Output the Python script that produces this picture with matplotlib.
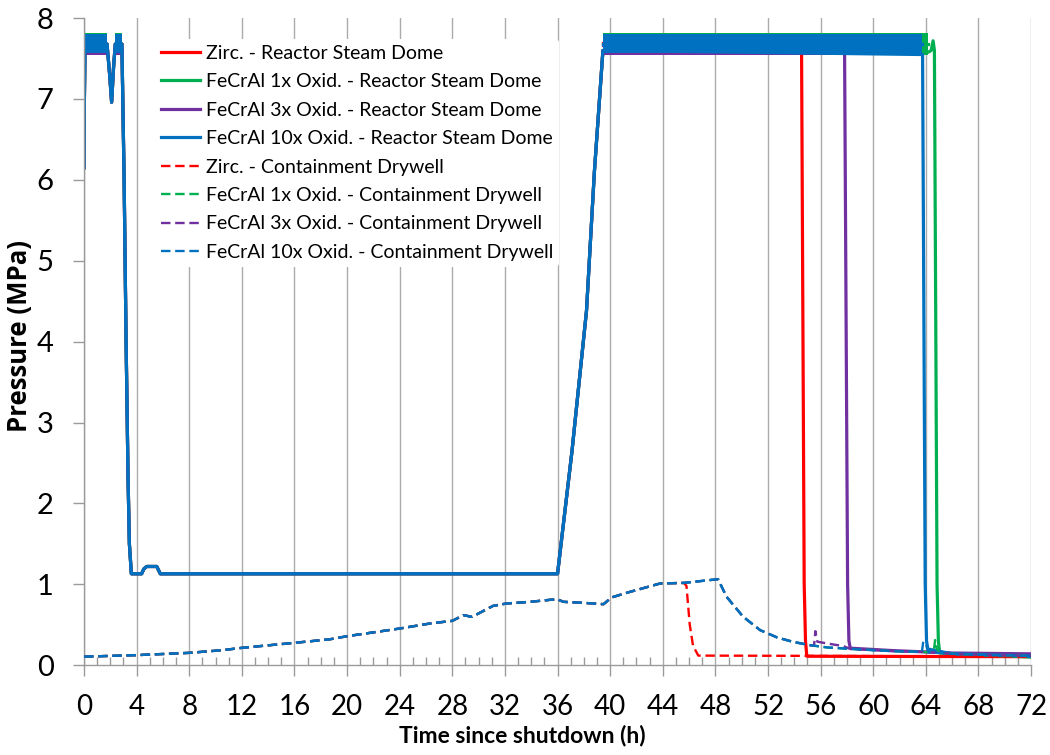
import matplotlib
matplotlib.use("Agg")
import matplotlib.pyplot as plt
from matplotlib.ticker import MultipleLocator

plt.rcParams['font.family'] = ['Lato', 'DejaVu Sans']

# ---------------- data ----------------
# Reactor steam dome pressure (MPa) vs time since shutdown (h), common early history
dome_t_common = [0, 0.03, 0.08, 1.75, 1.95, 2.1, 2.25, 2.38, 2.88, 3.05, 3.2, 3.35, 3.45, 3.6,
                 4.38, 4.55, 4.77, 5.53, 5.68, 5.8, 36.0, 37.1, 38.2, 38.8, 39.45]
dome_p_common = [6.15, 7.0, 7.68, 7.68, 7.3, 6.96, 7.4, 7.68, 7.68, 6.0, 4.0, 2.3, 1.5, 1.13,
                 1.13, 1.19, 1.22, 1.22, 1.17, 1.13, 1.13, 2.65, 4.38, 6.1, 7.6]

# late history of each case after relief-valve cycling ends
zirc_dome_t = [54.55, 54.75, 54.85, 54.95, 72.0]
zirc_dome_p = [7.6, 1.0, 0.3, 0.11, 0.105]
fecral1_dome_t = [64.2, 64.4, 64.55, 64.65, 64.85, 64.95, 65.05, 72.0]
fecral1_dome_p = [7.58, 7.6, 7.72, 7.6, 1.0, 0.3, 0.15, 0.10]
fecral3_dome_t = [57.82, 58.05, 58.15, 58.25, 61.5, 66.0, 72.0]
fecral3_dome_p = [7.6, 1.0, 0.3, 0.21, 0.18, 0.15, 0.14]
fecral10_dome_t = [63.7, 63.75, 63.95, 64.05, 64.15, 66.0, 72.0]
fecral10_dome_p = [7.55, 7.55, 1.0, 0.3, 0.2, 0.14, 0.11]

# relief-valve cycling: pressure band (low, high) and cycling periods (h)
zirc_band = (7.56, 7.82)
fecral1_band = (7.55, 7.81)
fecral3_band = (7.54, 7.80)
fecral10_band = (7.57, 7.80)
cycling_early = [(0.08, 1.75), (2.38, 2.88)]
zirc_cycling_end = 54.55
fecral1_cycling_end = 64.2
fecral3_cycling_end = 57.82
fecral10_cycling_end = 63.7

# Containment drywell pressure (MPa), common early history
dw_t_common = [0, 4, 8, 10.5, 12, 16, 18.7, 20, 24, 26.3, 28, 28.85, 29.5, 31.1, 32.1, 33.9,
               35.95, 36.45, 38, 39.5, 40.1, 41.5, 43.8, 45.6]
dw_p_common = [0.105, 0.124, 0.152, 0.185, 0.214, 0.276, 0.32, 0.358, 0.453, 0.515, 0.548, 0.618,
               0.597, 0.733, 0.762, 0.783, 0.816, 0.783, 0.77, 0.754, 0.837, 0.906, 1.01, 1.017]

zirc_dw_t = [45.8, 46.05, 46.3, 46.7, 55.0, 72.0]
zirc_dw_p = [0.98, 0.5, 0.24, 0.118, 0.115, 0.105]

fecral_dw_t = [48.2, 48.85, 50.1, 51.4, 52.7, 53.9, 55.2, 56.5, 59.0, 61.5, 63.7, 64.1,
               64.6, 66.6, 69.1, 72.0]
fecral_dw_p = [1.063, 0.845, 0.60, 0.433, 0.342, 0.288, 0.247, 0.219, 0.194, 0.173, 0.165, 0.16,
               0.155, 0.136, 0.124, 0.115]

# local venting spikes in the drywell for individual cases
fecral1_dw_spike_t = [64.6, 64.7, 64.85, 65.0]
fecral1_dw_spike_p = [0.165, 0.31, 0.2, 0.155]
fecral3_dw_spike_t = [55.5, 55.6, 55.75, 56.5, 57.75, 58.25]
fecral3_dw_spike_p = [0.24, 0.42, 0.29, 0.268, 0.235, 0.2]
fecral10_dw_spike_t = [63.7, 63.8, 64.0, 64.2]
fecral10_dw_spike_p = [0.165, 0.29, 0.26, 0.16]

labels_dome = ["Zirc. - Reactor Steam Dome", "FeCrAl 1x Oxid. - Reactor Steam Dome",
               "FeCrAl 3x Oxid. - Reactor Steam Dome", "FeCrAl 10x Oxid. - Reactor Steam Dome"]
labels_dw = ["Zirc. - Containment Drywell", "FeCrAl 1x Oxid. - Containment Drywell",
             "FeCrAl 3x Oxid. - Containment Drywell", "FeCrAl 10x Oxid. - Containment Drywell"]
colors = ["#FF0000", "#00B050", "#7030A0", "#0070C0"]


def merge_spike(t, p, st, sp):
    """Replace the part of (t, p) spanned by a spike with the spike points."""
    out = [(a, b) for a, b in zip(t, p) if a < st[0] or a > st[-1]]
    out += list(zip(st, sp))
    out.sort()
    return [a for a, _ in out], [b for _, b in out]


dome_series = [
    (dome_t_common + zirc_dome_t, dome_p_common + zirc_dome_p, zirc_band, zirc_cycling_end),
    (dome_t_common + fecral1_dome_t, dome_p_common + fecral1_dome_p, fecral1_band, fecral1_cycling_end),
    (dome_t_common + fecral3_dome_t, dome_p_common + fecral3_dome_p, fecral3_band, fecral3_cycling_end),
    (dome_t_common + fecral10_dome_t, dome_p_common + fecral10_dome_p, fecral10_band, fecral10_cycling_end),
]

fecral1_dw = merge_spike(dw_t_common + fecral_dw_t, dw_p_common + fecral_dw_p,
                         fecral1_dw_spike_t, fecral1_dw_spike_p)
fecral3_dw = merge_spike(dw_t_common + fecral_dw_t, dw_p_common + fecral_dw_p,
                         fecral3_dw_spike_t, fecral3_dw_spike_p)
fecral10_dw = merge_spike(dw_t_common + fecral_dw_t, dw_p_common + fecral_dw_p,
                          fecral10_dw_spike_t, fecral10_dw_spike_p)
dw_series = [
    (dw_t_common + zirc_dw_t, dw_p_common + zirc_dw_p),
    fecral1_dw,
    fecral3_dw,
    fecral10_dw,
]

# ---------------- figure ----------------
fig = plt.figure(figsize=(10.5, 7.55), dpi=100)
ax = fig.add_axes([0.080, 0.119, 0.902, 0.857])

for (t, p, band, end), c, lab in zip(dome_series, colors, labels_dome):
    # relief-valve cycling drawn as a pressure band
    for a, b in cycling_early + [(39.45, end)]:
        ax.fill_between([a, b], band[0], band[1], color=c, lw=0, zorder=2)
    mid = 0.5 * (band[0] + band[1])
    ax.plot(t, p, color=c, lw=2.3, label=lab, zorder=2, solid_joinstyle='round')
    ax.plot([39.45, end], [mid, mid], color=c, lw=2.3, zorder=2)

for (t, p), c, lab in zip(dw_series, colors, labels_dw):
    ax.plot(t, p, color=c, lw=1.7, ls=(0, (4, 2.0)), label=lab, zorder=3)

# ---------------- axes styling ----------------
ax.set_xlim(0, 72)
ax.set_ylim(0, 8)
ax.xaxis.set_major_locator(MultipleLocator(4))
ax.xaxis.set_minor_locator(MultipleLocator(1))
ax.yaxis.set_major_locator(MultipleLocator(1))
ax.grid(axis='x', which='major', color='#ABABAB', lw=1.0, zorder=0)
ax.set_axisbelow(True)

for s in ['top', 'right']:
    ax.spines[s].set_visible(False)
for s in ['left', 'bottom']:
    ax.spines[s].set_color('#9A9A9A')
    ax.spines[s].set_linewidth(1.0)

ax.tick_params(axis='x', which='major', direction='out', length=8, width=1.0, color='#9A9A9A',
               labelsize=20, pad=13)
ax.tick_params(axis='x', which='minor', direction='in', length=6, width=1.0, color='#9A9A9A')
ax.tick_params(axis='y', which='major', direction='out', length=8, width=1.0, color='#9A9A9A',
               labelsize=21, pad=20)
for lbl in ax.get_yticklabels():
    lbl.set_horizontalalignment('center')

ax.set_xlabel("Time since shutdown (h)", fontsize=16.5, fontweight='bold')
ax.xaxis.set_label_coords(0.4625, -0.0915)
ax.set_ylabel("Pressure (MPa)", fontsize=18.5, family=['Open Sans', 'DejaVu Sans'],
              fontweight='bold')
ax.yaxis.set_label_coords(-0.0535, 0.5085)

handles, labels = ax.get_legend_handles_labels()
leg = ax.legend(handles, labels, loc='upper left', bbox_to_anchor=(0.075, 0.968),
                frameon=True, fontsize=14, handlelength=2.0, handletextpad=0.3,
                labelspacing=0.59, borderpad=0.3, borderaxespad=0)
leg.get_frame().set_edgecolor('none')
leg.get_frame().set_facecolor('white')
leg.get_frame().set_alpha(1.0)
leg.set_zorder(5)

fig.savefig("out.png", dpi=100)
